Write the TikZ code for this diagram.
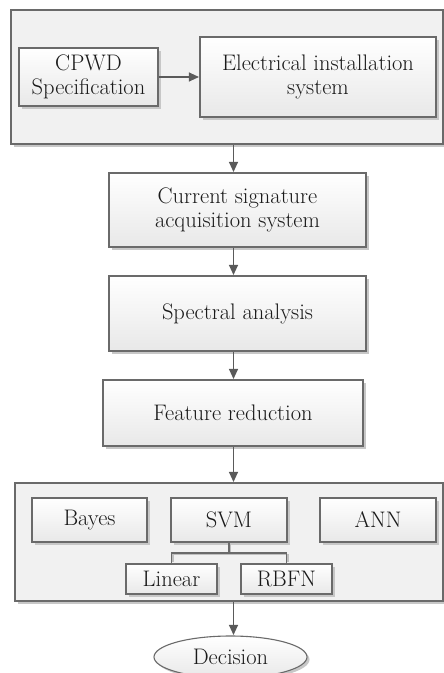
\documentclass[tikz,border=0pt]{standalone}
\usetikzlibrary{shapes.geometric,shadows,arrows.meta}
\definecolor{edge}{HTML}{6A6A6A}
\definecolor{arrowc}{HTML}{5A5A5A}
\definecolor{panel}{HTML}{F1F1F1}
\definecolor{txt}{HTML}{1A1A1A}
\tikzset{
  shd/.style={drop shadow={shadow xshift=2.5pt,shadow yshift=-2.5pt,fill=black!22,opacity=1}},
  panelbox/.style={draw=edge,line width=1.1pt,fill=panel,shd,rectangle,inner sep=0pt},
  procbox/.style={draw=edge,line width=1.1pt,top color=white,bottom color=black!9,shd,rectangle,
    inner sep=0pt,align=center,text=txt,font=\fontsize{22.5}{24.5}\selectfont},
  endbox/.style={procbox,ellipse},
  arr/.style={draw=arrowc,line width=1.1pt,-{Triangle[length=10pt,width=9pt]},shorten >=0.5pt}
}
\begin{document}
\begin{tikzpicture}[x=1pt,y=-1pt]
\useasboundingbox (0,0) rectangle (444,673);
\clip (0,0) rectangle (444,673);
\fill[white] (0,0) rectangle (444,673);
% top panel
\node[panelbox,minimum width=432,minimum height=134] (top) at (227,77) {};
\node[procbox,minimum width=139,minimum height=58] (cpwd) at (88.5,77) {CPWD\\Specification};
\node[procbox,minimum width=236,minimum height=80] (elec) at (318,77) {Electrical installation\\system};
\draw[arr] (cpwd.east) -- (elec.west);
% middle chain
\node[procbox,minimum width=257,minimum height=74] (cur) at (237.5,210) {Current signature\\acquisition system};
\node[procbox,minimum width=257,minimum height=75] (spec) at (237.5,313.5) {Spectral analysis};
\node[procbox,minimum width=260,minimum height=66] (feat) at (233,413) {Feature reduction};
% bottom panel
\node[panelbox,minimum width=428,minimum height=118] (bot) at (229,542) {};
\node[procbox,minimum width=115,minimum height=44] (bayes) at (89.5,520) {Bayes};
\node[procbox,minimum width=116,minimum height=44] (svm) at (229,520) {SVM};
\node[procbox,minimum width=116,minimum height=44] (ann) at (378,520) {ANN};
\node[procbox,minimum width=91,minimum height=30] (lin) at (171.5,579) {Linear};
\node[procbox,minimum width=91,minimum height=30] (rbf) at (286.5,579) {RBFN};
% tree connector (shadow + line)
\coordinate (jn) at (229,553);
\draw[black!25,line width=1.1pt] ([xshift=1.5pt,yshift=-1.5pt]svm.south) |- ([xshift=1.5pt,yshift=-1.5pt]jn)
  -| ([xshift=1.5pt,yshift=1.5pt]lin.north);
\draw[black!25,line width=1.1pt] ([xshift=1.5pt,yshift=-1.5pt]jn) -| ([xshift=1.5pt,yshift=1.5pt]rbf.north);
\draw[edge,line width=1.1pt] (svm.south) -- (jn) -| (lin.north);
\draw[edge,line width=1.1pt] (jn) -| (rbf.north);
% decision
\node[endbox,minimum width=153,minimum height=42] (dec) at (230.5,657) {Decision};
% arrows
\coordinate (col) at (233.5,0);
\draw[arr] (top.south -| col) -- (cur.north -| col);
\draw[arr] (cur.south -| col) -- (spec.north -| col);
\draw[arr] (spec.south -| col) -- (feat.north -| col);
\draw[arr] (feat.south -| col) -- (bot.north -| col);
\draw[arr] (bot.south -| col) -- (dec.north -| col);
\end{tikzpicture}
\end{document}
